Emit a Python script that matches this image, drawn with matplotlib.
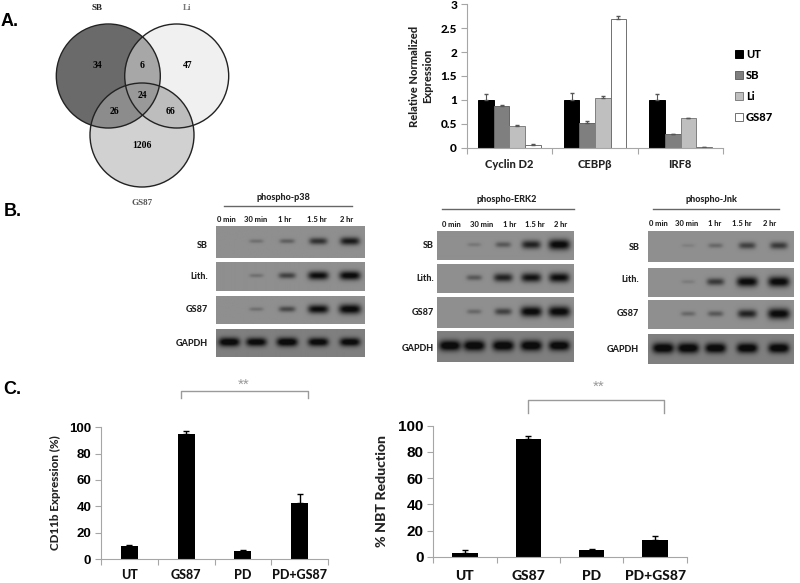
"""Composite figure: Venn diagram, qPCR bars, phospho blots and differentiation bars."""

import matplotlib

matplotlib.use("Agg")
import matplotlib.pyplot as plt
import numpy as np
from matplotlib.patches import Circle, Patch

W, H = 800, 583
SANS = "Lato"
SERIF = "Liberation Serif"
HEAVY = 900

# Venn
venn_names = ["SB", "Li", "GS87"]
venn_counts = ["34", "6", "47", "26", "24", "66", "1206"]
# region colour, index = SB + 2*Li + 4*GS87
venn_grays = [1.0, 0.42, 0.94, 0.66, 0.82, 0.55, 0.74, 0.60]

# qPCR bars
genes = ["Cyclin D2", "CEBPβ", "IRF8"]
qpcr_series = ["UT", "SB", "Li", "GS87"]
qpcr_vals = [[1, 1, 1], [0.88, 0.52, 0.29], [0.46, 1.04, 0.62], [0.06, 2.69, 0.01]]
qpcr_errs = [[0.12, 0.14, 0.12], [0.01, 0.03, 0.0], [0.01, 0.04, 0.01], [0.01, 0.06, 0.0]]
qpcr_yticks = [0, 0.5, 1, 1.5, 2, 2.5, 3]
qpcr_ylabels = ["0", "0.5", "1", "1.5", "2", "2.5", "3"]

# Blots: band strength per row and lane
time_labels = ["0 min", "30 min", "1 hr", "1.5 hr", "2 hr"]
row_labels = ["SB", "Lith.", "GS87", "GAPDH"]
p38_bands = [[0, 0.2, 0.3, 0.6, 0.75], [0, 0.2, 0.5, 0.85, 0.9],
             [0, 0.2, 0.45, 0.85, 1.0], [0.9, 0.85, 0.9, 0.85, 0.85]]
erk_bands = [[0, 0.15, 0.35, 0.7, 0.95], [0, 0.35, 0.7, 0.8, 0.85],
             [0, 0.25, 0.5, 0.95, 1.0], [0.95, 0.95, 0.95, 0.95, 0.9]]
jnk_bands = [[0, 0.1, 0.25, 0.5, 0.55], [0, 0.12, 0.55, 0.9, 0.95],
             [0, 0.25, 0.35, 0.7, 1.0], [0.95, 0.95, 0.9, 0.9, 0.9]]

# CD11b / NBT bars
treatments = ["UT", "GS87", "PD", "PD+GS87"]
cd11b_vals = [9.5, 95, 6, 42.5]
cd11b_errs = [1, 2, 1, 7]
nbt_vals = [3, 90, 5, 12.5]
nbt_errs = [2, 2, 1, 3]
pct_ticks = [0, 20, 40, 60, 80, 100]


def px_axes(fig, left, top, right, bottom):
    return fig.add_axes([left / W, 1 - bottom / H, (right - left) / W, (bottom - top) / H])


def style_axes(ax, labelsize):
    for side in ["top", "right"]:
        ax.spines[side].set_visible(False)
    for side in ["left", "bottom"]:
        ax.spines[side].set_color("#a6a6a6")
    ax.patch.set_alpha(0)
    ax.tick_params(axis="both", color="#a6a6a6", length=4, labelsize=labelsize, pad=3)
    ax.tick_params(axis="x", which="major", labelbottom=False)


def draw_venn(ov):
    centers = [(108.3, 76), (176.7, 76), (142, 135)]
    radius = 52
    xs = np.arange(50, 235, 0.25)
    ys = np.arange(18, 195, 0.25)
    xx, yy = np.meshgrid(xs, ys)
    code = np.zeros_like(xx, dtype=int)
    for i, (cx, cy) in enumerate(centers):
        code += ((xx - cx) ** 2 + (yy - cy) ** 2 <= radius**2).astype(int) * 2**i
    img = np.array(venn_grays)[code]
    ov.imshow(img, extent=(50, 235, 195, 18), cmap="gray", vmin=0, vmax=1, aspect="auto",
              interpolation="bilinear", zorder=1)
    for c in centers:
        ov.add_patch(Circle(c, radius, fill=False, ec="#222222", lw=1.0, zorder=2))
    spots = [(97, 65), (142, 65), (187.5, 65), (114, 111), (142, 95.5), (170.5, 111), (142, 146)]
    for (x, y), s in zip(spots, venn_counts):
        ov.text(x, y, s, family=SERIF, weight="bold", fontsize=7, ha="center", va="center", zorder=3)
    name_spots = [(97, 8, "#222222"), (187.5, 8, "#777777"), (142, 203, "#555555")]
    for (x, y, col), s in zip(name_spots, venn_names):
        ov.text(x, y, s, family=SERIF, weight="bold", fontsize=6.5, color=col,
                ha="center", va="center", zorder=3)


def draw_blot(ov, title, title_xy, line, time_y, time_xs, label_x, label_ys,
              panel_x, panel_rows, lane_xs, bands, band_w, band_h):
    ov.text(title_xy[0], title_xy[1], title, family=SANS, weight=HEAVY, fontsize=6.5,
            color="#222222", ha="center", va="center")
    ov.plot(line[:2], [line[2], line[2]], color="#666666", lw=1.0)
    for x, s in zip(time_xs, time_labels):
        ov.text(x, time_y, s, family=SANS, weight=HEAVY, fontsize=5.5, color="#222222",
                ha="center", va="center")
    for y, s in zip(label_ys, row_labels):
        ov.text(label_x, y, s, family=SANS, weight=HEAVY, fontsize=6.5, color="#222222",
                ha="right", va="center")
    for r, (top, bottom) in enumerate(panel_rows):
        xs = np.arange(panel_x[0], panel_x[1], 0.5)
        ys = np.arange(top, bottom, 0.5)
        xx, yy = np.meshgrid(xs, ys)
        img = np.full_like(xx, 0.56)
        if r == 3:
            img[:] = 0.50
        mid = (top + bottom) / 2 - 1
        for lane_x, s in zip(lane_xs, bands[r]):
            if s <= 0:
                continue
            w = band_w * (0.55 + 0.45 * s)
            h = band_h * (0.3 + 0.9 * s)
            shape = np.exp(-(((xx - lane_x) / w) ** 4 + ((yy - mid) / h) ** 2))
            img -= 0.56 * min(1.0, s * 1.1) * shape
        img = np.clip(img, 0.05, 1)
        ov.imshow(img, extent=(panel_x[0], panel_x[1], bottom, top), cmap="gray", vmin=0, vmax=1,
                  aspect="auto", interpolation="bilinear", zorder=1)


def draw_bars(fig, box, vals, errs, width, tick_fs):
    ax = px_axes(fig, *box)
    x = np.arange(len(vals))
    ax.bar(x, vals, width, color="black",
           yerr=[np.zeros(len(errs)), errs], error_kw={"ecolor": "black", "elinewidth": 1, "capsize": 2})
    ax.set_xlim(-0.5, len(vals) - 0.5)
    ax.set_ylim(0, 100)
    ax.set_yticks(pct_ticks)
    ax.set_yticklabels([str(t) for t in pct_ticks], family="Liberation Sans", weight="bold")
    ax.set_xticks(np.arange(len(vals) + 1) - 0.5)
    style_axes(ax, tick_fs)
    return box[0] + (x + 0.5) * (box[2] - box[0]) / len(vals)


def main():
    fig = plt.figure(figsize=(W / 100, H / 100), dpi=100, facecolor="white")
    ov = fig.add_axes([0, 0, 1, 1], zorder=0)
    ov.axis("off")

    # Panel letters
    for x, y, s in [(1, 21, "A."), (4, 212, "B."), (3, 389, "C.")]:
        ov.text(x, y, s, family="Liberation Sans", weight="bold", fontsize=13, va="center", ha="left")

    draw_venn(ov)

    # qPCR
    box = (466.7, 4.3, 723.3, 147.7)
    ax = px_axes(fig, *box)
    face = ["black", "#7f7f7f", "#bfbfbf", "white"]
    edge = ["black", "#666666", "#808080", "#707070"]
    width = 0.183
    for i, name in enumerate(qpcr_series):
        ax.bar(np.arange(3) + (i - 1.5) * width, qpcr_vals[i], width, color=face[i], edgecolor=edge[i],
               lw=0.7, label=name, yerr=[np.zeros(3), qpcr_errs[i]],
               error_kw={"ecolor": "#555555", "elinewidth": 0.8, "capsize": 1.5})
    ax.set_xlim(-0.5, 2.5)
    ax.set_ylim(0, 3)
    ax.set_yticks(qpcr_yticks)
    ax.set_yticklabels(qpcr_ylabels, family=SANS, weight=HEAVY)
    ax.set_xticks(np.arange(4) - 0.5)
    style_axes(ax, 8.5)
    for xc, s in zip([509, 594.5, 680], genes):
        ov.text(xc, 164, s, family=SANS, weight=HEAVY, fontsize=8, color="#222222", ha="center", va="center")
    ov.text(421.5, 76, "Relative Normalized\nExpression", family=SANS, weight=HEAVY, fontsize=8,
            color="#222222", rotation=90, ha="center", va="center", linespacing=1.25)
    handles = [Patch(facecolor=face[i], edgecolor=edge[i], lw=0.7, label=n) for i, n in enumerate(qpcr_series)]
    fig.legend(handles=handles, loc="upper left", bbox_to_anchor=(726 / W, 1 - 40 / H), frameon=False,
               prop={"family": SANS, "weight": HEAVY, "size": 8}, handlelength=0.7, handleheight=0.7,
               handletextpad=0.3, labelspacing=0.9, borderpad=0.3)

    # Blots
    draw_blot(ov, "phospho-p38", (283, 197), (224.3, 351.7, 205.7), 220,
              [226.7, 256, 285, 316.7, 346.7], 208, [245, 276.7, 309, 344], (216, 364.3),
              [(226.7, 258), (262.7, 291.3), (296.7, 324), (329.7, 357.3)],
              [229, 256, 286.7, 317.7, 349.3], p38_bands, 11, 4)
    draw_blot(ov, "phospho-ERK2", (506.7, 199), (442.3, 573.7, 209.3), 224.3,
              [451, 481.3, 509.3, 534.7, 560.3], 434, [246, 278.3, 312.3, 348.3], (437.3, 574.3),
              [(231.7, 260), (264, 292.7), (297, 327.7), (332, 362.3)],
              [450, 474.3, 503.3, 531.3, 559.3], erk_bands, 11, 4.5)
    draw_blot(ov, "phospho-Jnk", (711, 199), (652.7, 779.3, 209), 224,
              [658.7, 686.7, 714.7, 741.7, 770], 639.3, [247.3, 279.3, 314, 349.3], (647.7, 793.3),
              [(231.7, 262.3), (267.7, 296.7), (300.3, 329.3), (334.3, 364)],
              [662.7, 687.7, 715, 746.7, 778.3], jnk_bands, 11, 4.5)

    # CD11b and NBT
    left_centers = draw_bars(fig, (101, 427.3, 328, 559), cd11b_vals, cd11b_errs, 0.3, 9.5)
    right_centers = draw_bars(fig, (433.3, 425.7, 686.7, 556.7), nbt_vals, nbt_errs, 0.4, 11)
    for xc, s in zip(left_centers, treatments):
        ov.text(xc, 575, s, family=SANS, weight=HEAVY, fontsize=9, color="#111111", ha="center", va="center")
    for xc, s in zip(right_centers, treatments):
        ov.text(xc, 576.5, s, family=SANS, weight=HEAVY, fontsize=10, color="#111111", ha="center", va="center")
    ov.text(55, 493, "CD11b Expression (%)", family=SANS, weight=HEAVY, fontsize=8.4, color="#222222",
            rotation=90, ha="center", va="center")
    ov.text(382, 491, "% NBT Reduction", family=SANS, weight=HEAVY, fontsize=10.2, color="#222222",
            rotation=90, ha="center", va="center")

    # Significance brackets
    for x0, x1, y0, y1, sx, sy in [(181, 308.3, 398.3, 390.7, 244, 385), (528, 663.7, 413.3, 400.3, 598.7, 387)]:
        ov.plot([x0, x0, x1, x1], [y0, y1, y1, y0], color="#9a9a9a", lw=1.0)
        ov.text(sx, sy, "**", family="Liberation Sans", fontsize=11, color="#999999", ha="center", va="center")

    ov.set_xlim(0, W)
    ov.set_ylim(H, 0)
    fig.savefig("out.png", dpi=100)
    plt.close(fig)


if __name__ == "__main__":
    main()
